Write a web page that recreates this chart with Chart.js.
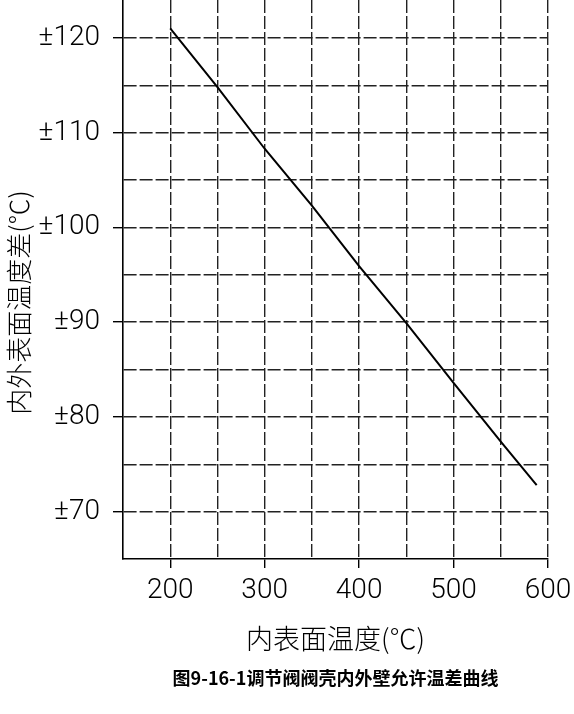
<!DOCTYPE html>
<html>
<head>
<meta charset="utf-8">
<script src="https://cdn.jsdelivr.net/npm/chart.js@4/dist/chart.umd.min.js"></script>
<style>
  html, body { margin: 0; padding: 0; background: #ffffff; }
  #wrap { width: 574px; height: 714px; }
</style>
</head>
<body>
<div id="wrap"><canvas id="c" width="574" height="714"></canvas></div>
<script>
// ---- data ----
const innerTemp = [200, 250, 300, 350, 400, 450, 500, 550, 588];            // 内表面温度 (℃)
const allowedDiff = [121, 114.8, 108.3, 102.3, 95.9, 89.9, 83.6, 77.4, 72.8]; // 内外表面温度差 (±℃)
const xLabelValues = [200, 300, 400, 500, 600];
const yLabelValues = [70, 80, 90, 100, 110, 120];
const xTitle = '内表面温度(℃)';
const yTitle = '内外表面温度差(℃)';
const caption = '图9-16-1调节阀阀壳内外壁允许温差曲线';

const numFont = "Roboto, 'Liberation Sans', sans-serif";
const cjkFont = "'Noto Sans CJK SC', 'Noto Sans', sans-serif";
const gridCol = '#222222';

new Chart(document.getElementById('c'), {
  type: 'line',
  data: {
    datasets: [{
      data: innerTemp.map((x, i) => ({ x: x, y: allowedDiff[i] })),
      borderColor: '#000000',
      borderWidth: 2,
      pointRadius: 0,
      tension: 0,
      fill: false
    }]
  },
  options: {
    responsive: false,
    animation: false,
    layout: { padding: { left: 0, top: 0, bottom: 0, right: 26 } },
    plugins: {
      legend: { display: false },
      tooltip: { enabled: false },
      title: {
        display: true,
        position: 'bottom',
        fullSize: false,
        text: caption,
        color: '#000000',
        font: { family: cjkFont, size: 18, weight: 'bold', lineHeight: 1.2 },
        padding: { top: 5, bottom: 25 }
      }
    },
    scales: {
      x: {
        type: 'linear',
        min: 150,
        max: 600,
        afterFit: (s) => { s.height = 103.4; s.paddingLeft = 0; s.paddingRight = 0; },
        ticks: {
          stepSize: 50,
          autoSkip: false,
          maxRotation: 0,
          padding: 6,
          color: '#000000',
          font: { family: numFont, size: 28, weight: '300', lineHeight: 1.2 },
          callback: (v) => xLabelValues.includes(v) ? String(v) : ''
        },
        grid: {
          lineWidth: 1.4,
          color: (ctx) => (ctx.tick && ctx.tick.value > 150) ? gridCol : 'rgba(0,0,0,0)',
          tickColor: (ctx) => (ctx.tick && xLabelValues.includes(ctx.tick.value)) ? '#000000' : 'rgba(0,0,0,0)',
          tickLength: 9,
          tickWidth: 1.4,
          drawTicks: true
        },
        border: { display: true, color: '#000000', width: 1.6, dash: [13, 3] },
        title: {
          display: true,
          text: xTitle,
          color: '#000000',
          font: { family: cjkFont, size: 27, weight: '300', lineHeight: 1.2 },
          padding: { top: 0, bottom: 7 }
        }
      },
      y: {
        type: 'linear',
        min: 65,
        max: 124,
        afterFit: (s) => { s.width = 123; s.paddingTop = 0; s.paddingBottom = 0; },
        ticks: {
          stepSize: 5,
          autoSkip: false,
          padding: 13,
          color: '#000000',
          font: { family: numFont, size: 28, weight: '300', lineHeight: 1.2 },
          callback: (v) => yLabelValues.includes(v) ? '±' + v : ''
        },
        grid: {
          lineWidth: 1.4,
          color: (ctx) => (ctx.tick && ctx.tick.value > 65 && ctx.tick.value % 5 === 0) ? gridCol : 'rgba(0,0,0,0)',
          tickColor: (ctx) => (ctx.tick && yLabelValues.includes(ctx.tick.value)) ? '#000000' : 'rgba(0,0,0,0)',
          tickLength: 10,
          tickWidth: 1.4,
          drawTicks: true
        },
        border: { display: true, color: '#000000', width: 1.6, dash: [13, 3] },
        title: {
          display: true,
          text: yTitle + '        ',
          color: '#000000',
          font: { family: cjkFont, size: 26, weight: '300', lineHeight: 1.2 },
          padding: { top: 4, bottom: 0 }
        }
      }
    }
  }
});
</script>
</body>
</html>
